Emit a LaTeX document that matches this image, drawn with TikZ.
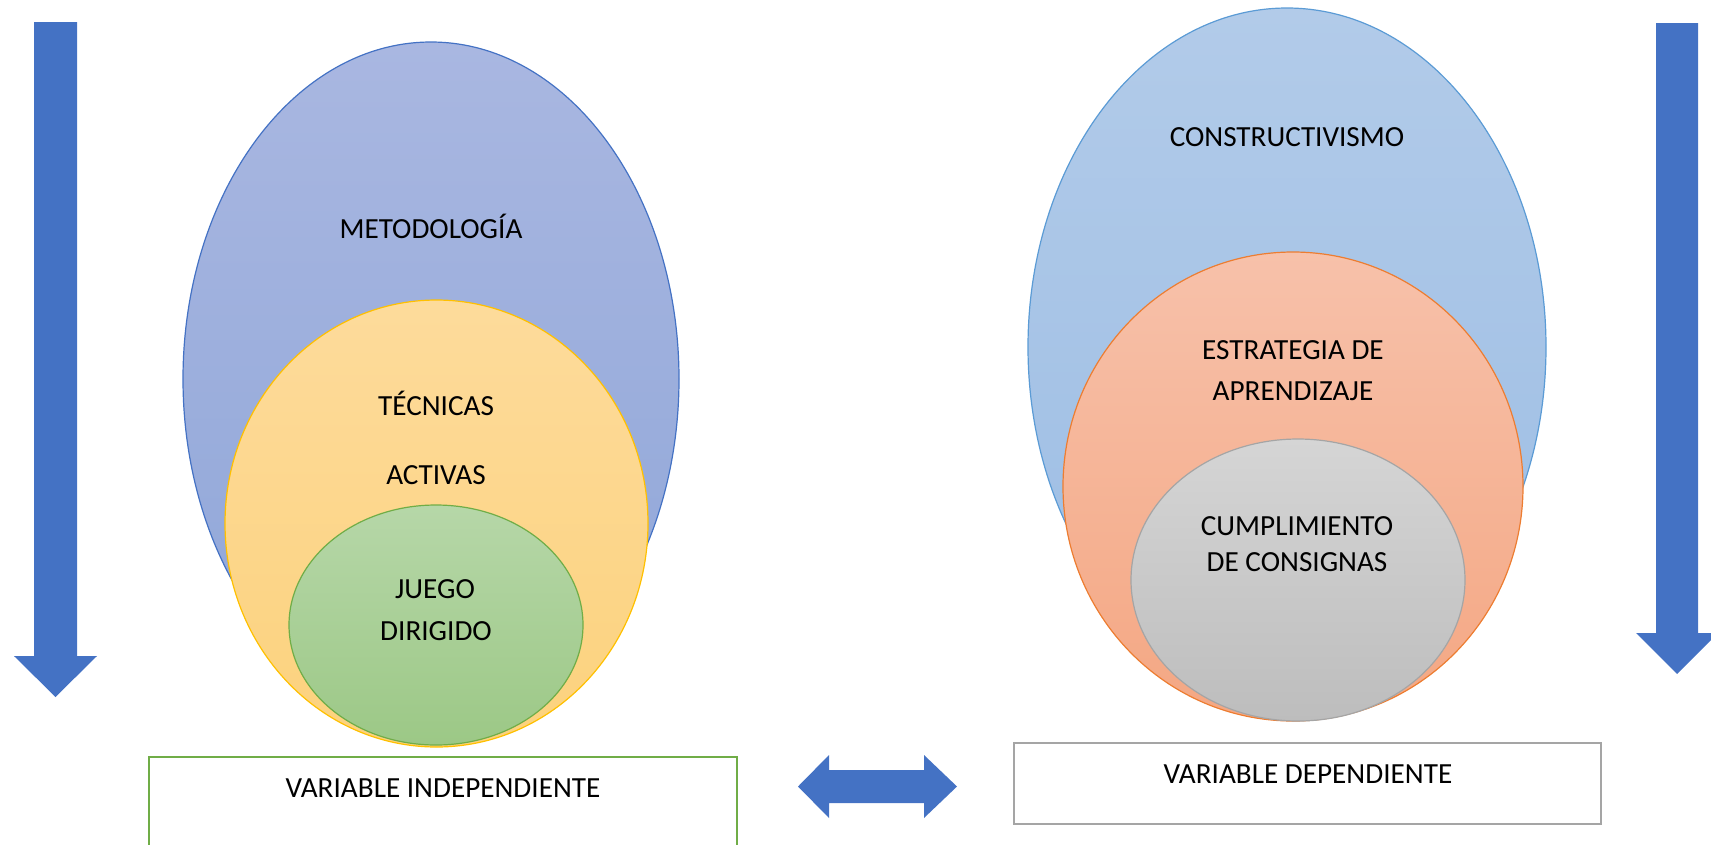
\documentclass[tikz,border=0pt]{standalone}
\usepackage{fontspec}
\setmainfont{Carlito}
\usetikzlibrary{shapes.geometric}
\definecolor{arrowblue}{RGB}{68,114,196}
\definecolor{ellblueA}{RGB}{169,183,225}
\definecolor{ellblueB}{RGB}{143,166,216}
\definecolor{yelA}{RGB}{253,219,155}
\definecolor{yelB}{RGB}{252,210,125}
\definecolor{yelLine}{RGB}{255,192,0}
\definecolor{grnA}{RGB}{182,215,168}
\definecolor{grnB}{RGB}{156,200,134}
\definecolor{grnLine}{RGB}{112,173,71}
\definecolor{lbA}{RGB}{178,203,233}
\definecolor{lbB}{RGB}{156,189,228}
\definecolor{lbLine}{RGB}{91,155,213}
\definecolor{salA}{RGB}{247,193,170}
\definecolor{salB}{RGB}{244,167,131}
\definecolor{salLine}{RGB}{237,125,49}
\definecolor{gryA}{RGB}{213,213,213}
\definecolor{gryB}{RGB}{189,189,189}
\definecolor{gryLine}{RGB}{165,165,165}
\tikzset{
  oval/.style={ellipse, inner sep=0pt, line width=0.9pt},
  lbl/.style={anchor=base, inner sep=0pt, font=\fontsize{21.9}{26}\selectfont},
  varbox/.style={draw, line width=1.6pt, fill=white, inner sep=0pt},
  blockarrow/.style={fill=arrowblue, draw=none}
}
\begin{document}
\begin{tikzpicture}[x=0.75pt, y=-0.75pt]
\useasboundingbox (0,0) rectangle (1711,844);
% left down arrow
\path[blockarrow] (34,22) -- (77,22) -- (77,656) -- (97,656) -- (55.5,697) -- (14,656) -- (34,656) -- cycle;
% right down arrow
\path[blockarrow] (1656,23) -- (1698,23) -- (1698,633) -- (1718,633) -- (1677,674) -- (1636,633) -- (1656,633) -- cycle;
% left ellipses
\node[oval, draw=arrowblue, top color=ellblueA, bottom color=ellblueB, minimum width=496*0.75pt, minimum height=674*0.75pt] (met) at (431,379) {};
\node[oval, draw=yelLine, top color=yelA, bottom color=yelB, minimum width=423*0.75pt, minimum height=447*0.75pt] (tec) at (436.5,523.5) {};
\node[oval, draw=grnLine, top color=grnA, bottom color=grnB, minimum width=294*0.75pt, minimum height=240*0.75pt] (jue) at (436,625) {};
\node[lbl] (tmet) at (431,238.5) {METODOLOGÍA};
\node[lbl] (ttec1) at (436,415.5) {TÉCNICAS};
\node[lbl] (ttec2) at (436,484.5) {ACTIVAS};
\node[lbl] (tjue1) at (435,598.5) {JUEGO};
\node[lbl] (tjue2) at (436,640.5) {DIRIGIDO};
% right ellipses
\node[oval, draw=lbLine, top color=lbA, bottom color=lbB, minimum width=518*0.75pt, minimum height=678*0.75pt] (con) at (1287,347) {};
\node[oval, draw=salLine, top color=salA, bottom color=salB, minimum width=460*0.75pt, minimum height=469*0.75pt] (est) at (1293,486.5) {};
\node[oval, draw=gryLine, top color=gryA, bottom color=gryB, minimum width=334*0.75pt, minimum height=282*0.75pt] (cum) at (1298,580) {};
\node[lbl] (tcon) at (1287,146.5) {CONSTRUCTIVISMO};
\node[lbl] (test1) at (1293,359.5) {ESTRATEGIA DE};
\node[lbl] (test2) at (1293,400.5) {APRENDIZAJE};
\node[lbl] (tcum1) at (1297,535.5) {CUMPLIMIENTO};
\node[lbl] (tcum2) at (1297,571.5) {DE CONSIGNAS};
% boxes
\draw[varbox, draw=grnLine] (149,757) rectangle (737,850);
\node[lbl] (vind) at (443,797) {VARIABLE INDEPENDIENTE};
\draw[varbox, draw=gryLine] (1014,743) rectangle (1601,824);
\node[lbl] (vdep) at (1308,783) {VARIABLE DEPENDIENTE};
% double arrow
\path[blockarrow] (798,786.5) -- (829,755) -- (829,770) -- (924,770) -- (924,755) -- (957,786.5) -- (924,818) -- (924,803) -- (829,803) -- (829,818) -- cycle;
\end{tikzpicture}
\end{document}
